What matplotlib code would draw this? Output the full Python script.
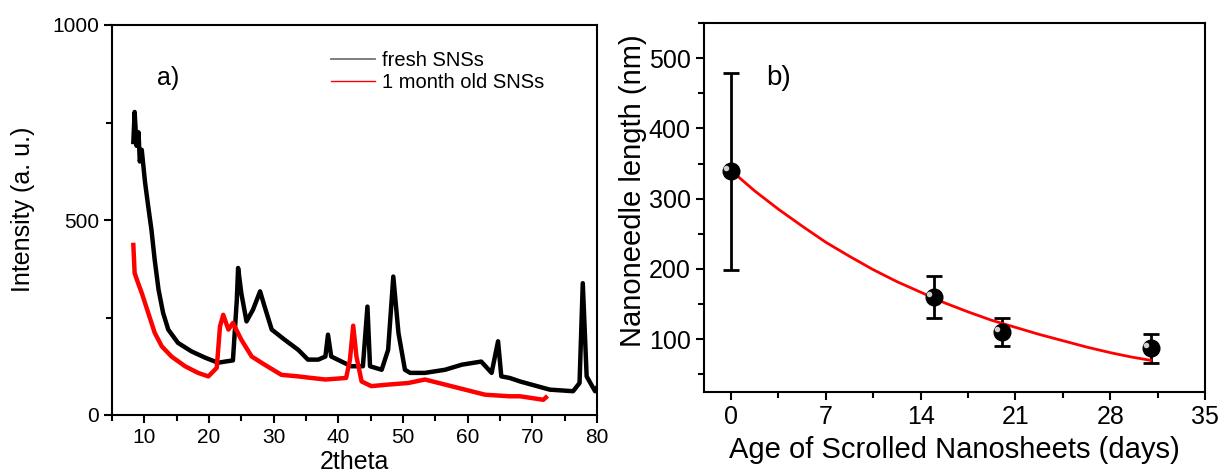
import numpy as np
import matplotlib.pyplot as plt
from matplotlib.ticker import MultipleLocator

# a) XRD patterns (values read off the picture)
fresh_x = [8.3, 8.5, 8.8, 9.1, 9.3, 9.6, 10.1, 10.6, 11.1, 11.6, 12.2, 12.9, 13.7, 15.2, 17.3,
           19.4, 21.4, 22.5, 23.7, 24.3, 24.5, 25.0, 25.8, 26.8, 27.9, 28.6, 29.7, 31.7, 33.8,
           35.3, 36.9, 38.0, 38.4, 38.9, 40.5, 42.0, 43.8, 44.5, 44.9, 46.7, 47.7, 48.5, 49.3,
           50.3, 51.1, 53.4, 56.5, 59.1, 62.1, 63.7, 64.7, 65.2, 66.5, 68.1, 72.7, 76.3, 77.3,
           77.8, 78.4, 79.7, 80.0]
fresh_y = [700, 777, 690, 725, 650, 680, 598, 535, 475, 398, 321, 262, 219, 185, 163,
           147, 134, 137, 140, 295, 377, 312, 240, 270, 317, 278, 219, 193, 167,
           142, 142, 150, 206, 150, 137, 125, 125, 278, 125, 116, 167, 355, 210,
           116, 108, 108, 116, 129, 137, 108, 189, 99, 95, 86, 65, 61, 82,
           338, 99, 61, 70]

old_x = [8.3, 8.5, 9.0, 9.6, 10.6, 11.6, 12.7, 14.2, 16.3, 18.3, 19.9, 21.2, 21.7, 22.2,
         23.0, 23.7, 25.0, 26.6, 28.6, 31.2, 33.8, 35.3, 38.0, 41.2, 41.8, 42.3, 42.8,
         43.6, 45.1, 47.7, 50.8, 53.4, 56.5, 59.6, 62.7, 66.5, 68.1, 71.7, 72.1]
old_y = [436, 364, 340, 313, 262, 211, 176, 150, 125, 108, 99, 121, 227, 257,
         219, 236, 193, 150, 129, 103, 99, 96, 91, 95, 142, 229, 150,
         86, 74, 78, 82, 91, 78, 65, 52, 48, 48, 39, 45]

# b) nanoneedle length vs age of the scrolled nanosheets
age = [0, 15, 20, 31]
length = [339, 160, 110, 87]
length_err = [140, 30, 20, 21]
fit_age = [0, 1.75, 3.5, 5.25, 7, 8.75, 10.5, 12.25, 14, 15.75, 17.5, 19.25, 21,
           22.75, 24.5, 26.25, 28, 29.5, 31]
fit_length = [340, 311, 285, 261, 238, 218, 199, 182, 167, 152, 139, 127, 117,
              107, 98, 89, 81, 75, 70]

plt.rcParams['font.family'] = ['Liberation Sans', 'DejaVu Sans']

fig = plt.figure(figsize=(12.24, 4.72), dpi=100)
W, H = 1224, 472
ax1 = fig.add_axes([112 / W, 1 - 415 / H, (597 - 112) / W, (415 - 25) / H])
ax2 = fig.add_axes([704 / W, 1 - 392 / H, (1205 - 704) / W, (392 - 23) / H])

ax1.plot(fresh_x, fresh_y, color='black', linewidth=3.2, label='fresh SNSs')
ax1.plot(old_x, old_y, color='red', linewidth=3.2, label='1 month old SNSs')
ax1.set_xlim(5, 80)
ax1.set_ylim(0, 1000)
ax1.xaxis.set_major_locator(MultipleLocator(10))
ax1.xaxis.set_minor_locator(MultipleLocator(5))
ax1.yaxis.set_major_locator(MultipleLocator(500))
ax1.yaxis.set_minor_locator(MultipleLocator(250))
ax1.set_xlabel('2theta', fontsize=18, labelpad=2)
ax1.set_ylabel('Intensity (a. u.)', fontsize=18)
ax1.yaxis.set_label_coords(-0.159, 0.528)
ax1.text(0.093, 0.865, 'a)', transform=ax1.transAxes, fontsize=18, va='center')
leg = ax1.legend(loc='upper left', bbox_to_anchor=(0.435, 0.955), frameon=False,
                 fontsize=14.5, handlelength=2.2, handletextpad=0.35, labelspacing=0.15,
                 borderaxespad=0)
leg.get_lines()[0].set_color('0.45')
leg.get_lines()[0].set_linewidth(1.3)
leg.get_lines()[1].set_linewidth(1.0)

ax2.errorbar(age, length, yerr=length_err, fmt='none', ecolor='black',
             elinewidth=2, capsize=6, capthick=2, zorder=2)
ax2.plot(fit_age, fit_length, color='red', linewidth=2, zorder=3)
ax2.plot(age, length, 'o', color='black', markersize=12, zorder=4)
ax2.plot(np.array(age) - 0.35, np.array(length) + 5, 'o', color='#d0d0d0',
         markersize=4, markeredgewidth=0, zorder=5)
ax2.set_xlim(-2, 35)
ax2.set_ylim(25, 550)
ax2.xaxis.set_major_locator(MultipleLocator(7))
ax2.xaxis.set_minor_locator(MultipleLocator(3.5))
ax2.yaxis.set_minor_locator(MultipleLocator(50))
ax2.set_yticks([100, 200, 300, 400, 500])
ax2.set_xlabel('Age of Scrolled Nanosheets (days)', fontsize=21, labelpad=5)
ax2.set_ylabel('Nanoneedle length (nm)', fontsize=21)
ax2.yaxis.set_label_coords(-0.114, 0.546)
ax2.text(0.125, 0.85, 'b)', transform=ax2.transAxes, fontsize=20, va='center')

for ax, fs in ((ax1, 15), (ax2, 18)):
    for s in ax.spines.values():
        s.set_linewidth(1.5)
    ax.tick_params(which='both', direction='out', top=False, right=False, width=1.5,
                   labelsize=fs)
    ax.tick_params(which='major', length=6)
    ax.tick_params(which='minor', length=4)

fig.savefig('out.png', dpi=100)
